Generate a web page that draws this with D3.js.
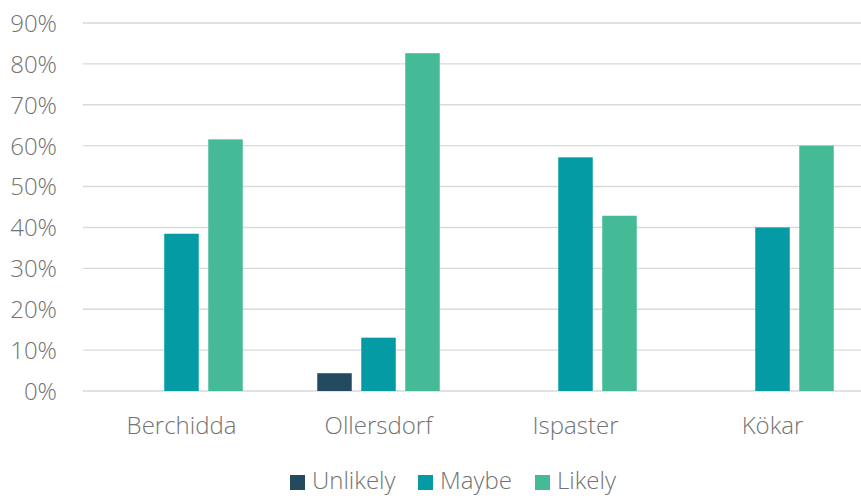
<!DOCTYPE html>
<html>
<head>
<meta charset="utf-8">
<script src="https://cdn.jsdelivr.net/npm/d3@7"></script>
<style>
  html, body { margin: 0; padding: 0; background: #fff; }
  svg text { font-family: "Open Sans", sans-serif; font-weight: 300; fill: #737373; }
</style>
</head>
<body>
<svg id="chart" width="861" height="498"></svg>
<script>
// Share of responses per village
const categories = ["Berchidda", "Ollersdorf", "Ispaster", "Kökar"];
const seriesNames = ["Unlikely", "Maybe", "Likely"];
const unlikely = [0, 1 / 23, 0, 0];
const maybe = [5 / 13, 3 / 23, 4 / 7, 0.4];
const likely = [8 / 13, 19 / 23, 3 / 7, 0.6];
const yTicks = [0, 0.1, 0.2, 0.3, 0.4, 0.5, 0.6, 0.7, 0.8, 0.9];
const colors = ["#234a5e", "#049ba5", "#44ba97"];

const seriesValues = [unlikely, maybe, likely];

const svg = d3.select("#chart");
const W = 861, H = 498;

const x0 = d3.scaleBand().domain(categories).range([83, 871]).padding(0);
const x1 = d3.scaleBand().domain(seriesNames).range([-61.25, 61.25]).paddingInner(0.216).paddingOuter(0);
const y = d3.scaleLinear().domain([0, 0.9]).range([391, 23]);
const color = d3.scaleOrdinal().domain(seriesNames).range(colors);

// Horizontal gridlines
svg.append("g")
  .selectAll("line")
  .data(yTicks)
  .join("line")
  .attr("x1", 83)
  .attr("x2", W)
  .attr("y1", d => y(d))
  .attr("y2", d => y(d))
  .attr("stroke", "#d9d9d9")
  .attr("stroke-width", 1.4);

// Y axis labels
const yAxis = d3.axisLeft(y).tickValues(yTicks).tickFormat(d3.format(".0%")).tickSize(0).tickPadding(0);
const yg = svg.append("g").attr("transform", "translate(57,0)").call(yAxis);
yg.select(".domain").remove();
yg.selectAll("text").style("font-size", "24px").attr("dy", "0.35em");

// Category labels
const xAxis = d3.axisBottom(x0).tickSize(0).tickPadding(0);
const xg = svg.append("g").attr("transform", "translate(0,434)").call(xAxis);
xg.select(".domain").remove();
xg.selectAll("text").style("font-size", "24px").attr("y", 0).attr("dy", "0");

// Bars
const rows = [];
categories.forEach((c, i) => {
  seriesNames.forEach((s, j) => {
    rows.push({ cat: c, series: s, value: seriesValues[j][i] });
  });
});

svg.append("g")
  .selectAll("rect")
  .data(rows.filter(d => d.value > 0))
  .join("rect")
  .attr("x", d => x0(d.cat) + x0.bandwidth() / 2 + x1(d.series))
  .attr("width", x1.bandwidth())
  .attr("y", d => y(d.value))
  .attr("height", d => y(0) - y(d.value))
  .attr("fill", d => color(d.series));

// Legend
const legendX = [290, 418, 535];
const legend = svg.append("g")
  .selectAll("g")
  .data(seriesNames)
  .join("g")
  .attr("transform", (d, i) => `translate(${legendX[i]},475)`);
legend.append("rect")
  .attr("width", 15)
  .attr("height", 15)
  .attr("fill", d => color(d));
legend.append("text")
  .attr("x", 22)
  .attr("y", 14)
  .style("font-size", "24px")
  .text(d => d);
</script>
</body>
</html>
